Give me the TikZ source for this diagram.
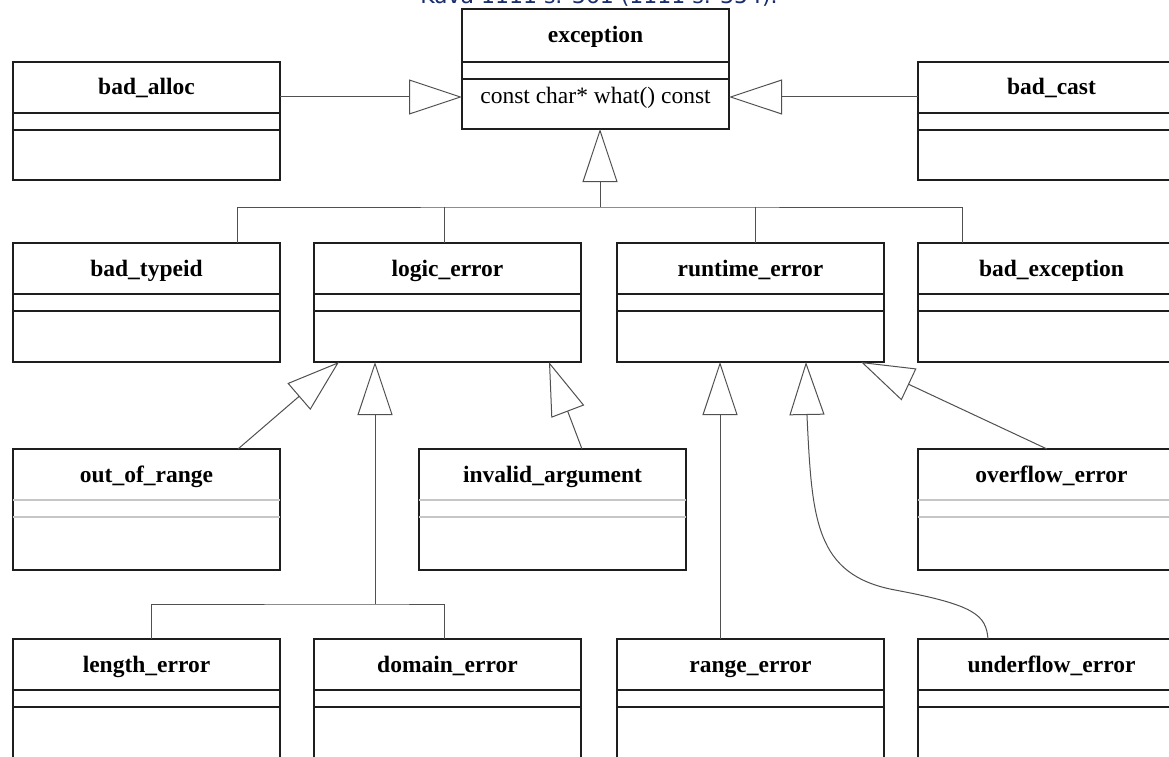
\documentclass[tikz,border=0pt]{standalone}
\usepackage{fontspec}
\setmainfont{Liberation Serif}
\newfontfamily\captionfont{DejaVu Sans}
\usetikzlibrary{arrows.meta,calc}

\definecolor{framecol}{RGB}{30,30,30}
\definecolor{linkcol}{RGB}{80,80,80}
\definecolor{captioncol}{RGB}{25,45,110}

\tikzset{
  classframe/.style={draw=framecol, line width=1.3pt, rectangle, inner sep=0pt,
    outer sep=0pt, anchor=north west, minimum width=267pt, fill=white},
  classname/.style={font=\fontsize{23.5}{28}\selectfont\bfseries, inner sep=0pt, anchor=base},
  member/.style={font=\fontsize{23.5}{28}\selectfont, inner sep=0pt, anchor=base},
  divider/.style={line width=1.3pt},
  link/.style={draw=linkcol, line width=1pt},
  inherit/.style={link, -{Triangle[open, length=53pt, width=35pt]}, line join=miter},
}

% UML class with an empty attribute and operation compartment
% #1 id, #2 left, #3 top, #4 height, #5 name, #6 divider colour
\newcommand\umlclass[6]{%
  \node[classframe, minimum height=#4pt] (#1) at (#2,#3) {};
  \node[classname] (#1-name) at ($(#1.north)+(0,33)$) {#5};
  \draw[divider, draw=#6] ($(#1.north west)+(0,51)$) -- ($(#1.north east)+(0,51)$);
  \draw[divider, draw=#6] ($(#1.north west)+(0,68)$) -- ($(#1.north east)+(0,68)$);
}

\begin{document}
\begin{tikzpicture}[x=1pt, y=-1pt]
  \useasboundingbox (0,0) rectangle (1169,757);
  \fill[white] (0,0) rectangle (1169,757);
  \clip (0,0) rectangle (1169,757);

  % caption line cut at the top edge
  \node[font=\captionfont\fontsize{22}{26}\selectfont, text=captioncol,
        inner sep=0pt, anchor=base] (caption) at (599,4) {Kuva 1111 s. 361 (1111 s. 354).};

  % base class
  \node[classframe, minimum height=120pt] (exception) at (462,9) {};
  \node[classname] (exception-name) at ($(exception.north)+(0,34)$) {exception};
  \draw[divider, draw=framecol] ($(exception.north west)+(0,53)$) -- ($(exception.north east)+(0,53)$);
  \draw[divider, draw=framecol] ($(exception.north west)+(0,70)$) -- ($(exception.north east)+(0,70)$);
  \node[member] (exception-what) at ($(exception.north)+(0,94)$) {const char* what() const};

  % derived classes
  \umlclass{bad_alloc}{13}{62}{118}{bad\_alloc}{framecol}
  \umlclass{bad_cast}{918}{62}{118}{bad\_cast}{framecol}

  \umlclass{bad_typeid}{13}{243}{119}{bad\_typeid}{framecol}
  \umlclass{logic_error}{314}{243}{119}{logic\_error}{framecol}
  \umlclass{runtime_error}{617}{243}{119}{runtime\_error}{framecol}
  \umlclass{bad_exception}{918}{243}{119}{bad\_exception}{framecol}

  \umlclass{out_of_range}{13}{449}{121}{out\_of\_range}{gray!45}
  \umlclass{invalid_argument}{419}{449}{121}{invalid\_argument}{gray!45}
  \umlclass{overflow_error}{918}{449}{121}{overflow\_error}{gray!45}

  \umlclass{length_error}{13}{639}{121}{length\_error}{framecol}
  \umlclass{domain_error}{314}{639}{121}{domain\_error}{framecol}
  \umlclass{range_error}{617}{639}{121}{range\_error}{framecol}
  \umlclass{underflow_error}{918}{639}{121}{underflow\_error}{framecol}

  % generalisations into exception
  \draw[inherit] ($(bad_alloc.north east)+(0,35)$) -- ($(exception.north west)+(0,88)$);
  \draw[inherit] ($(bad_cast.north west)+(0,35)$) -- ($(exception.north east)+(0,88)$);

  \coordinate (excTip) at ($(exception.south west)+(138,0)$);
  \coordinate (trunk) at ($(exception.south west)+(138,78)$);
  \draw[inherit] (trunk) -- (excTip);
  \coordinate (typeidTop) at ($(bad_typeid.north west)+(224,0)$);
  \coordinate (logicTop) at ($(logic_error.north west)+(130,0)$);
  \coordinate (runtimeTop) at ($(runtime_error.north west)+(138,0)$);
  \coordinate (badexcTop) at ($(bad_exception.north west)+(44,0)$);
  \draw[link] (typeidTop) |- (trunk) -| (badexcTop);
  \draw[link] (logicTop) -- (logicTop |- trunk);
  \draw[link] (runtimeTop) -- (runtimeTop |- trunk);

  % generalisations into logic_error
  \draw[inherit] ($(out_of_range.north west)+(225,0)$) -- ($(logic_error.south west)+(25,0)$);
  \draw[inherit] ($(invalid_argument.north west)+(163,0)$) -- ($(logic_error.south west)+(235,0)$);
  \coordinate (logicTip) at ($(logic_error.south west)+(61,0)$);
  \coordinate (logicFork) at ($(logic_error.south west)+(61,242)$);
  \draw[inherit] (logicFork) -- (logicTip);
  \draw[link] ($(length_error.north west)+(138,0)$) |- (logicFork) -| ($(domain_error.north west)+(130,0)$);

  % generalisations into runtime_error
  \draw[inherit] ($(range_error.north west)+(103,0)$) -- ($(runtime_error.south west)+(103,0)$);
  \draw[inherit] ($(overflow_error.north west)+(129,0)$) -- ($(runtime_error.south east)+(-23,0)$);
  \draw[inherit] ($(underflow_error.north west)+(70,0)$)
      .. controls (986,615) and (975,605) .. (895,590)
      .. controls (815,575) and (812,520) .. (807,416)
      -- ($(runtime_error.south west)+(189,0)$);
\end{tikzpicture}
\end{document}
